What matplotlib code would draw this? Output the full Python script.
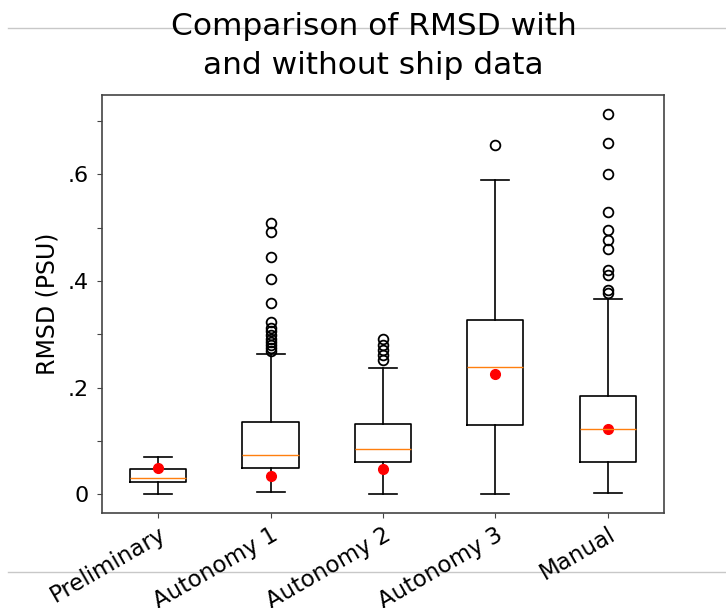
import matplotlib
matplotlib.use("Agg")
import matplotlib.pyplot as plt
from matplotlib.lines import Line2D

# Per-method RMSD summaries (PSU)
categories = ["Preliminary", "Autonomy 1", "Autonomy 2", "Autonomy 3", "Manual"]
whisker_low = [0.0, 0.0043, 0.0, 0.0, 0.0025]
q1 = [0.0235, 0.0482, 0.060, 0.1306, 0.060]
median = [0.0297, 0.0731, 0.0838, 0.238, 0.1218]
q3 = [0.0472, 0.1355, 0.1325, 0.3274, 0.1837]
whisker_high = [0.0688, 0.262, 0.237, 0.590, 0.366]
outliers = [
    [],
    [0.509, 0.492, 0.445, 0.404, 0.359, 0.323, 0.312, 0.306, 0.298,
     0.292, 0.285, 0.279, 0.274, 0.269],
    [0.292, 0.279, 0.270, 0.2605, 0.251],
    [0.6555],
    [0.7135, 0.6586, 0.5998, 0.529, 0.496, 0.4774, 0.4598, 0.4199,
     0.4105, 0.3837, 0.3774],
]
# RMSD of the run that includes ship data
with_ship = [0.0495, 0.0343, 0.0474, 0.2255, 0.1218]

yticks = [0.0, 0.1, 0.2, 0.3, 0.4, 0.5, 0.6, 0.7]
ytick_labels = ["0", "", ".2", "", ".4", "", ".6", ""]

stats = [
    dict(label=c, whislo=lo, q1=a, med=m, q3=b, whishi=hi, fliers=f)
    for c, lo, a, m, b, hi, f in zip(categories, whisker_low, q1, median,
                                      q3, whisker_high, outliers)
]

fig = plt.figure(figsize=(7.26, 6.08), dpi=100)
ax = fig.add_axes([0.1405, 0.156, 0.774, 0.688])

positions = list(range(1, len(categories) + 1))
ax.bxp(stats, positions=positions, showfliers=True,
       flierprops=dict(marker="o", markersize=7, markeredgewidth=1.3),
       boxprops=dict(linewidth=1.2), whiskerprops=dict(linewidth=1.2),
       capprops=dict(linewidth=1.2))
ax.plot(positions, with_ship, "ro", markersize=7)

for s in ax.spines.values():
    s.set_color("#444444")
    s.set_linewidth(1.2)

ax.set_xlim(0.5, len(categories) + 0.5)
ax.set_yticks(yticks)
ax.set_yticklabels(ytick_labels, fontsize=16)
ax.set_xticks(positions)
ax.set_xticklabels(categories, fontsize=16.5, rotation=30, ha="right",
                   rotation_mode="anchor")
ax.tick_params(axis="both", colors="#444444", labelcolor="black")
ax.tick_params(axis="y", pad=6)
ax.set_ylabel("RMSD (PSU)", fontsize=17, labelpad=6)
ax.set_title("Comparison of RMSD with\nand without ship data",
             fontsize=22.5, linespacing=1.44, pad=15, x=0.483)

# thin page rules above and below the plot
for yy in (0.954, 0.0592):
    fig.add_artist(Line2D([0.011, 1.0], [yy, yy], color="#c8c8c8",
                          linewidth=1.0, zorder=-1))

fig.savefig("out.png", dpi=100)
